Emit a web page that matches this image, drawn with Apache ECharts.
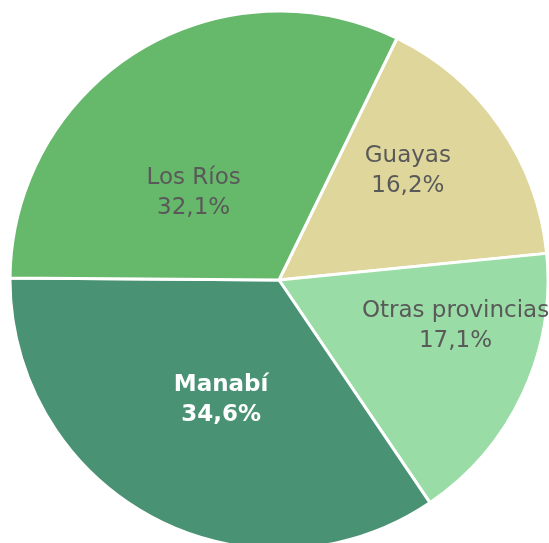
<!DOCTYPE html>
<html lang="es">
<head>
    <meta charset="UTF-8">
    <title>Pie</title>
    <style>
        html, body { margin: 0; padding: 0; background: #fff; }
        #main { width: 549px; height: 543px; }
    </style>
    <script src="https://cdn.jsdelivr.net/npm/echarts@6/dist/echarts.min.js"></script>
</head>
<body>
<div id="main"></div>
<script>
    // datos del gráfico
    var provincias = ['Guayas', 'Otras provincias', 'Manabí', 'Los Ríos'];
    var porcentajes = [16.2, 17.1, 34.6, 32.1];
    var colores = ['#dfd69b', '#99dca5', '#4a9274', '#66b86b'];
    // ajuste manual de la posición de etiquetas (px)
    var desplazamientos = [[16, -30], [52, -12], [7, -1], [-13, 30]];

    var myChart = echarts.init(document.getElementById('main'));

    var datos = provincias.map(function (p, i) {
        var item = {
            name: p,
            value: porcentajes[i],
            itemStyle: { color: colores[i] },
            label: { offset: desplazamientos[i] }
        };
        if (p === 'Manabí') {
            item.label.color = '#ffffff';
            item.label.fontWeight = 'bold';
        }
        return item;
    });

    var option = {
        animation: false,
        series: [{
            type: 'pie',
            center: [279, 280],
            radius: [0, 269],
            startAngle: 64,
            clockwise: true,
            silent: true,
            itemStyle: {
                borderColor: '#ffffff',
                borderWidth: 3
            },
            label: {
                show: true,
                position: 'inside',
                color: '#595959',
                fontFamily: 'DejaVu Sans',
                fontSize: 23,
                lineHeight: 30,
                formatter: function (p) {
                    return p.name + '\n' + String(p.value).replace('.', ',') + '%';
                }
            },
            labelLine: { show: false },
            data: datos
        }]
    };

    myChart.setOption(option);
</script>
</body>
</html>
